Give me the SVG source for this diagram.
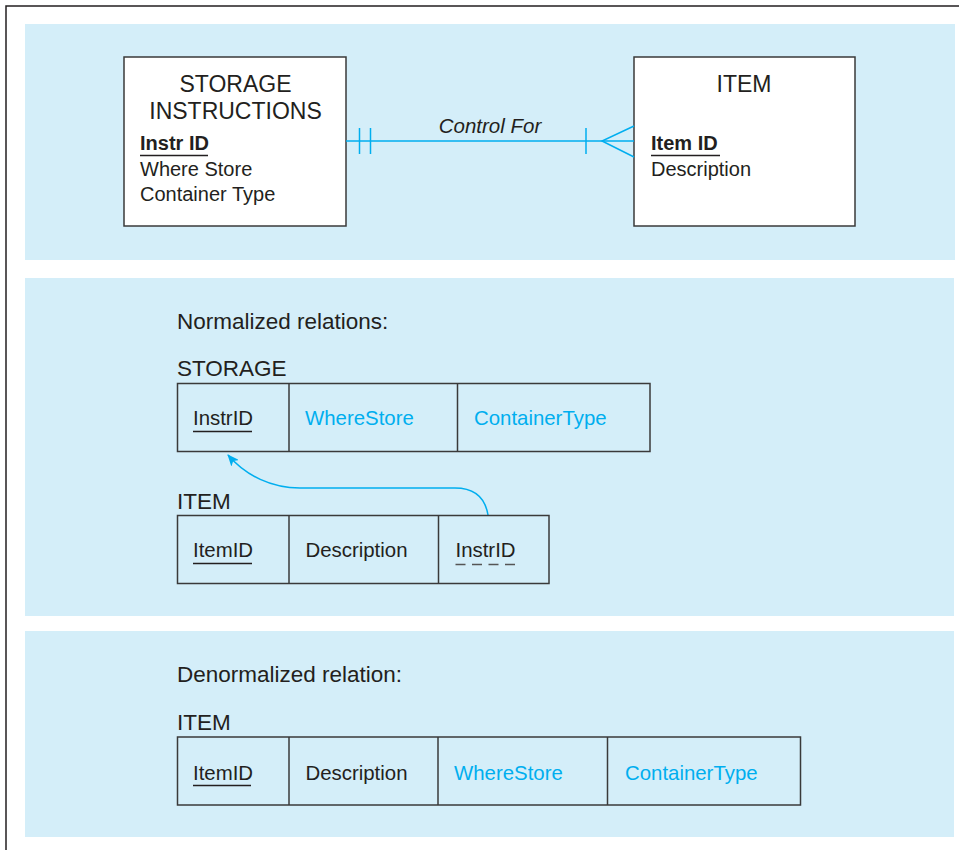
<svg xmlns="http://www.w3.org/2000/svg" width="959" height="850" viewBox="0 0 959 850">
<defs>
<style>
text{font-family:"Liberation Sans",Arial,sans-serif;fill:#231f20;font-size:20px}
.panel{fill:#d4eef9}
.box{fill:#fff;stroke:#3a3a3a;stroke-width:1.5}
.cell{fill:none;stroke:#3a3a3a;stroke-width:1.5}
.head{font-size:23px;text-anchor:middle}
.lbl{font-size:22.5px}
.t{font-size:20.4px}
.b{font-weight:bold}
.blue{fill:#00aeef}
.ul{stroke:#231f20;stroke-width:1.5}
.conn{fill:none;stroke:#00aeef;stroke-width:1.5}
</style>
<marker id="ah" viewBox="0 0 12 10" refX="11" refY="5" markerWidth="12" markerHeight="10" markerUnits="userSpaceOnUse" orient="auto">
<path d="M0,0 L12,5 L0,10 L3,5 Z" fill="#00aeef"/>
</marker>
</defs>
<rect width="959" height="850" fill="#fff"/>
<path d="M6,850 V6 H959" fill="none" stroke="#231f20" stroke-width="1.5"/>
<rect class="panel" x="25" y="24" width="930" height="236"/>
<rect class="panel" x="25" y="278" width="929" height="338"/>
<rect class="panel" x="25" y="631" width="929" height="206"/>

<g id="storage-instructions">
<rect class="box" x="124" y="57" width="222" height="169"/>
<text class="head" x="235.5" y="92">STORAGE</text>
<text class="head" x="235.5" y="119">INSTRUCTIONS</text>
<text class="b" x="140" y="150">Instr ID</text>
<line class="ul" x1="140" y1="155.5" x2="208" y2="155.5"/>
<text x="140" y="176">Where Store</text>
<text x="140" y="201">Container Type</text>
</g>

<g id="item-entity">
<rect class="box" x="634" y="57" width="221" height="169"/>
<text class="head" x="744" y="92">ITEM</text>
<text class="b" x="651" y="150">Item ID</text>
<line class="ul" x1="651" y1="155.5" x2="720" y2="155.5"/>
<text x="651" y="176">Description</text>
</g>

<g id="connectors">
<line class="conn" x1="346" y1="141" x2="634" y2="141"/>
<line class="conn" x1="359.5" y1="128" x2="359.5" y2="154"/>
<line class="conn" x1="370.5" y1="128" x2="370.5" y2="154"/>
<line class="conn" x1="586" y1="128" x2="586" y2="154"/>
<path class="conn" d="M634,126 L602,141 L634,157"/>
<text x="490" y="133" text-anchor="middle" font-style="italic" style="font-size:20.5px">Control For</text>
<path class="conn" d="M488,515 C485,497 474,488 455,488 L300,488 C272,488 246,476 228,455" marker-end="url(#ah)"/>
</g>

<g id="normalized">
<text class="lbl" x="177" y="329">Normalized relations:</text>
<text class="lbl" x="177" y="376">STORAGE</text>
</g>

<g id="storage-table">
<rect class="cell" x="177.5" y="383.5" width="472.5" height="68"/>
<line class="cell" x1="289" y1="383.5" x2="289" y2="451.5"/>
<line class="cell" x1="457.5" y1="383.5" x2="457.5" y2="451.5"/>
<text class="t" x="193" y="425">InstrID</text>
<line class="ul" x1="193" y1="431.5" x2="252" y2="431.5"/>
<text class="t blue" x="305" y="425">WhereStore</text>
<text class="t blue" x="474" y="425">ContainerType</text>
</g>

<g id="item-table">
<text class="lbl" x="177" y="509">ITEM</text>
<rect class="cell" x="177.5" y="515.5" width="371.5" height="68"/>
<line class="cell" x1="289" y1="515.5" x2="289" y2="583.5"/>
<line class="cell" x1="438.5" y1="515.5" x2="438.5" y2="583.5"/>
<text class="t" x="193" y="557">ItemID</text>
<line class="ul" x1="193" y1="563.5" x2="252" y2="563.5"/>
<text class="t" x="305.5" y="557">Description</text>
<text class="t" x="455.5" y="557">InstrID</text>
<line x1="455.5" y1="564.5" x2="515" y2="564.5" stroke="#555" stroke-width="1.5" stroke-dasharray="10 6.5"/>
</g>

<g id="denormalized">
<text class="lbl" x="177" y="682">Denormalized relation:</text>
<text class="lbl" x="177" y="730">ITEM</text>
</g>

<g id="denorm-table">
<rect class="cell" x="177.5" y="737" width="623" height="68"/>
<line class="cell" x1="289" y1="737" x2="289" y2="805"/>
<line class="cell" x1="438" y1="737" x2="438" y2="805"/>
<line class="cell" x1="607.5" y1="737" x2="607.5" y2="805"/>
<text class="t" x="193" y="780">ItemID</text>
<line class="ul" x1="193" y1="785.5" x2="251" y2="785.5"/>
<text class="t" x="305.5" y="780">Description</text>
<text class="t blue" x="454" y="780">WhereStore</text>
<text class="t blue" x="625" y="780">ContainerType</text>
</g>
</svg>
